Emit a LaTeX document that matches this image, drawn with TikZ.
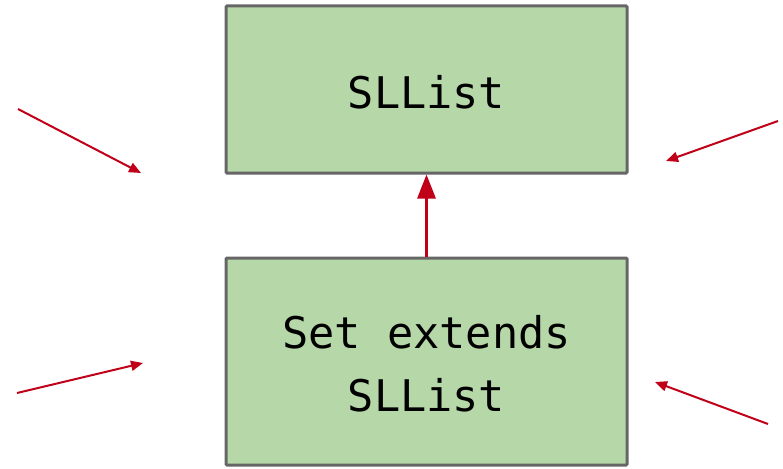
\documentclass[tikz,border=0pt]{standalone}
\usepackage{fontspec}
\setmonofont{DejaVu Sans Mono}
\usetikzlibrary{arrows.meta}
\definecolor{boxfill}{HTML}{B6D7A8}
\definecolor{boxline}{HTML}{666666}
\definecolor{arrred}{HTML}{C00018}
\tikzset{
  classbox/.style={draw=boxline, line width=3pt, fill=boxfill, inner sep=0pt, align=center,
    rounded corners=1pt, font=\ttfamily\fontsize{43.6}{63}\selectfont},
  bigarrow/.style={draw=arrred, line width=3pt, -{Triangle[length=24pt,width=18pt]}},
  smallarrow/.style={draw=arrred, line width=2pt, -{Triangle[length=12pt,width=10pt]}}
}
\begin{document}
\begin{tikzpicture}[x=1pt,y=-1pt]
\useasboundingbox (0,0) rectangle (783,468);
\node[classbox, minimum width=401pt, minimum height=167pt] (top) at (426.5,89.5) {};
\node[font=\ttfamily\fontsize{43.6}{63}\selectfont, inner sep=0pt] (toptext) at (426.5,92) {SLList};
\node[classbox, minimum width=401pt, minimum height=207pt] (bottom) at (426.5,361.5) {};
\node[font=\ttfamily\fontsize{43.6}{63}\selectfont, inner sep=0pt, align=center] (bottomtext) at (426.5,364) {Set extends\\SLList};
\draw[bigarrow] (bottom.north) -- (top.south);
\coordinate (a1s) at (18,109);
\coordinate (a1e) at (141,173);
\coordinate (a2s) at (778,121);
\coordinate (a2e) at (666,161);
\coordinate (a3s) at (17,393);
\coordinate (a3e) at (143,363);
\coordinate (a4s) at (768,424);
\coordinate (a4e) at (655,382);
\draw[smallarrow] (a1s) -- (a1e);
\draw[smallarrow] (a2s) -- (a2e);
\draw[smallarrow] (a3s) -- (a3e);
\draw[smallarrow] (a4s) -- (a4e);
\end{tikzpicture}
\end{document}
